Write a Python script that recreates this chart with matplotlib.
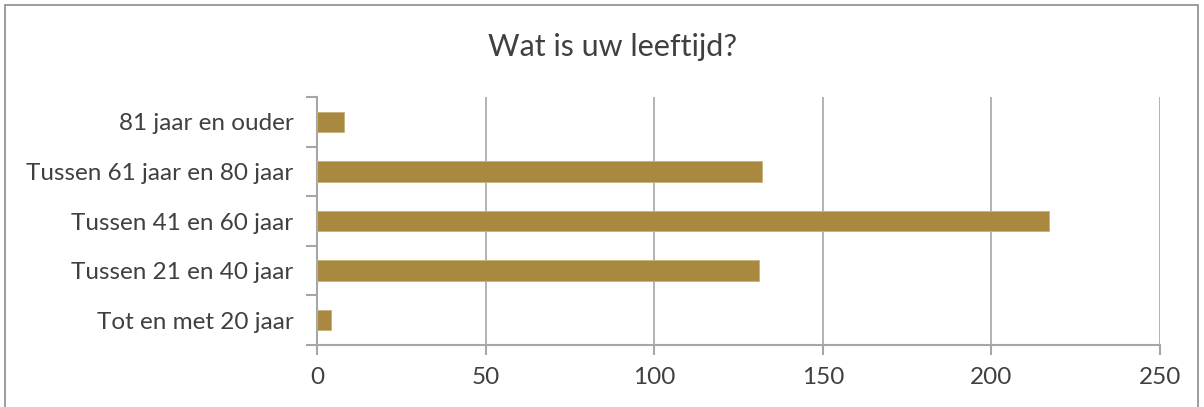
import matplotlib
matplotlib.use("Agg")
import matplotlib.pyplot as plt
from matplotlib.patches import Rectangle

# Survey answers: age groups (bottom to top) and number of respondents
categories = ["Tot en met 20 jaar", "Tussen 21 en 40 jaar", "Tussen 41 en 60 jaar",
              "Tussen 61 jaar en 80 jaar", "81 jaar en ouder"]
counts = [4, 131, 217, 132, 8]
xticks = [0, 50, 100, 150, 200, 250]
title = "Wat is uw leeftijd?"

bar_color = "#A8893F"
grid_color = "#A6A6A6"
text_color = "#404040"

plt.rcParams["font.family"] = ["Lato", "DejaVu Sans"]

fig = plt.figure(figsize=(12.04, 4.07), dpi=100)
ax = fig.add_axes([0.2633, 0.1523, 0.7002, 0.6093])

ypos = list(range(len(categories)))
ax.barh(ypos, counts, height=0.41, color=bar_color, edgecolor="#C8B27A",
        linewidth=0.6, zorder=3)

ax.set_xlim(0, 250)
ax.set_ylim(-0.5, len(categories) - 0.5)
ax.set_xticks(xticks)
ax.set_xticklabels([str(v) for v in xticks], fontsize=17.5, color=text_color)
ax.set_yticks(ypos)
ax.set_yticklabels(categories, fontsize=17.5, color=text_color)

# category separators as minor ticks on the left axis
ax.set_yticks([i - 0.5 for i in range(len(categories) + 1)], minor=True)
ax.tick_params(axis="y", which="major", length=0, pad=17)
ax.tick_params(axis="y", which="minor", length=8, width=1.5, color=grid_color)
ax.tick_params(axis="x", length=7, width=1.5, color=grid_color, pad=9)

ax.grid(axis="x", color=grid_color, linewidth=1.2, zorder=0)
for side in ["top", "right"]:
    ax.spines[side].set_visible(False)
for side in ["left", "bottom"]:
    ax.spines[side].set_color(grid_color)
    ax.spines[side].set_linewidth(1.5)

fig.text(0.5085, 0.885, title, ha="center", va="center", fontsize=22,
         color=text_color)

fig.patches.append(Rectangle((5 / 1204, -0.01), 1193 / 1204, 1 - 5 / 407 + 0.01,
                             transform=fig.transFigure, fill=False,
                             edgecolor="#8C8C8C", linewidth=1.2))

fig.savefig("out.png", dpi=100)
